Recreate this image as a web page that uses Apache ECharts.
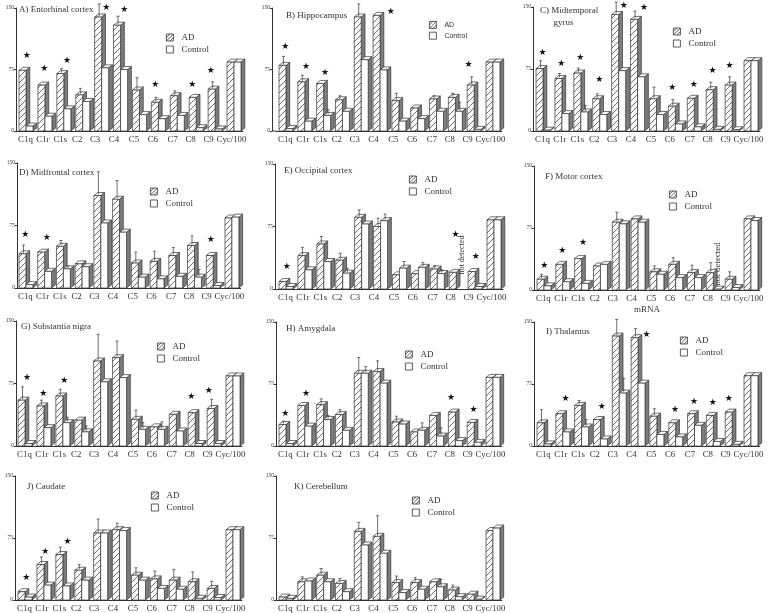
<!DOCTYPE html>
<html lang="en">
<head>
<meta charset="utf-8">
<script src="https://cdn.jsdelivr.net/npm/echarts@6/dist/echarts.min.js"></script>
<style>
    html, body { margin: 0; padding: 0; background: #fff; }
    #main { width: 768px; height: 613px; }
</style>
</head>
<body>
<div id="main"></div>
<script type="text/javascript">
var genes = ['C1q','C1r','C1s','C2','C3','C4','C5','C6','C7','C8','C9','Cyc/100'];
var n = null;

var adA = [74,56,70,44,139,129,50,35,43,41,51,84];
var controlA = [6,18,27,36,77,75,20,15,19,4,2.5,84];
var adErrA = [n,n,76,52,155,140,65,41,49,n,60,n];
var controlErrA = [n,n,n,n,n,n,n,n,n,n,n,n];
var starsA = [[0.07,92],[1,76],[2.2,86],[4.27,151],[5.23,148],[6.86,56],[8.82,56],[9.8,73]];

var adB = [80,60,58,38,139,141,37,28,39,41,56,84];
var controlB = [3,12,19,24,87,74.5,12,15,24,24,2,84];
var adErrB = [91,68,n,43,155,n,46,n,43,46,66,n];
var controlErrB = [n,n,26,n,n,n,n,n,n,35,n,n];
var starsB = [[0,103],[1.1,78],[2.1,71],[5.6,146],[9.73,81]];

var adC = [75.5,63.5,70,39,141,135,39,30,39.5,50,55.5,85];
var controlC = [1,21,23,20,73,65.5,20,8.5,5,2,1.5,85];
var adErrC = [85,69.5,76,45,156,145,53,38,n,59,65.5,n];
var controlErrC = [n,n,31,n,n,n,n,n,n,n,n,n];
var starsC = [[0,95],[1,82],[2,89],[3,62],[4.3,152],[5.37,149],[6.86,53],[8,56],[9,73],[9.9,79]];

var adD = [41,43,50,29,111,106.5,30,32,39,51,39,84];
var controlD = [4,20,23,25.5,78,67,13,11,14,13,3,85];
var adErrD = [51.5,n,57,n,139.5,129,43,44,48.5,62.5,n,n];
var controlErrD = [n,n,26,n,n,n,n,n,n,22,n,n];
var starsD = [[0,64],[1.14,61],[9.9,58.5]];

var adE = [9,40,54,34.5,86,75,17,18.5,24,20,21,83];
var controlE = [3,23,33,19,78,82,25,26,18.5,n,3,83];
var adErrE = [n,50,63,43,95,85,n,n,28,n,n,n];
var controlErrE = [n,n,n,25,n,90,33,32,23,n,n,n];
var starsE = [[0.07,27],[9,65],[10.07,39]];

var adF = [13,31,38,29,82,86,22,31,21,21,13,86];
var controlF = [5,10,8,31,80,82,19,15,15,1,3,84];
var adErrF = [19,n,n,n,94,n,29,39,30,33,22,n];
var controlErrF = [n,n,n,n,n,n,n,n,n,n,n,n];
var starsF = [[0.04,29],[1,47],[2.1,57]];

var adG = [55,48,60,31,102,106,32,23,38,40,45,84];
var controlG = [3,22,28,17,77,82,20,20,18,3,3,84];
var adErrG = [71,55,68,n,134,126,43,n,n,n,56,n];
var controlErrG = [n,n,34.5,24,n,n,28,29,n,n,n,n];
var starsG = [[0.14,82],[1,63],[2.1,79],[8.82,59],[9.75,66.5]];

var adH = [26,49,50,38,88,90,29,17,37,41,28.5,83];
var controlH = [3,24,32,19,88,76,26.5,19,12,6.5,4.5,83];
var adErrH = [30,n,57,44,107,103,36,n,n,n,n,n];
var controlErrH = [n,n,37,n,96,n,n,28,22,n,n,n];
var starsH = [[0,39],[1.1,63],[8.8,58],[10,44.5]];

var adI = [28,39,49,32,133,131,36,28,39,37,41,85];
var controlI = [2.5,17,23,8.5,64,76,14,11,25,5.5,2,85];
var adErrI = [44,n,55,n,153,142,45,n,n,n,n,n];
var controlErrI = [n,n,32,n,82,n,n,n,n,n,n,n];
var starsI = [[1.17,57],[3.1,48],[5.48,135],[7,44],[8,54],[9,52],[9.85,57]];

var adJ = [10,43,55,36,81,85,30,25.5,24,22,14,85];
var controlJ = [3.5,18,17,24,81,84,24,14,13,2,3,85];
var adErrJ = [n,52,64,43,98,93,39,35,37,34,22.5,n];
var controlErrJ = [n,n,n,n,n,n,n,n,n,n,n,n];
var starsJ = [[0.1,27],[1.1,59],[2.28,71]];

var adK = [3.5,22,30,20,83,77,21,21,22,12,7,84];
var controlK = [2,23,22,10,66.5,56.5,9,13,16,4,1,87];
var adErrK = [n,28,38,26,94,102,29,27,n,18,n,n];
var controlErrK = [n,n,n,n,n,n,n,n,25,n,n,n];
var starsK = [];

// axis = y axis x, first/cyc = left edge of first and last AD bar, all in page px
var panels = [
    {title:'A) Entorhinal cortex', tx:19, ty:4, axis:16, top:8, zero:131, first:19, cyc:227, lx:166, ly:33, ad:adA, control:controlA, adErr:adErrA, controlErr:controlErrA, stars:starsA},
    {title:'B) Hippocampus', tx:286, ty:10, axis:272, top:8, zero:131, first:279, cyc:486, lx:429, ly:21, ad:adB, control:controlB, adErr:adErrB, controlErr:controlErrB, stars:starsB, lf:'Liberation Sans', lfs:7},
    {title:'C) Midtemporal\n      gyrus', tx:540, ty:5, axis:533, top:7, zero:131, first:536, cyc:744, lx:673, ly:27, ad:adC, control:controlC, adErr:adErrC, controlErr:controlErrC, stars:starsC},
    {title:'D) Midfrontal cortex', tx:19, ty:167, axis:17, top:163, zero:288, first:19, cyc:225, lx:150, ly:187, ad:adD, control:controlD, adErr:adErrD, controlErr:controlErrD, stars:starsD},
    {title:'E) Occipital cortex', tx:284, ty:165, axis:275, top:164, zero:289, first:279, cyc:487, lx:409, ly:175, ad:adE, control:controlE, adErr:adErrE, controlErr:controlErrE, stars:starsE},
    {title:'F) Motor cortex', tx:545, ty:171, axis:534, top:166, zero:290, first:537, cyc:744, lx:669, ly:190, ad:adF, control:controlF, adErr:adErrF, controlErr:controlErrF, stars:starsF, xName:'mRNA'},
    {title:'G) Substantia nigra', tx:21, ty:321, axis:16, top:321, zero:446, first:18, cyc:226, lx:157, ly:342, ad:adG, control:controlG, adErr:adErrG, controlErr:controlErrG, stars:starsG},
    {title:'H) Amygdala', tx:286, ty:323, axis:276, top:322, zero:446, first:279, cyc:486, lx:405, ly:350, ad:adH, control:controlH, adErr:adErrH, controlErr:controlErrH, stars:starsH},
    {title:'I) Thalamus', tx:546, ty:326, axis:534, top:322, zero:446, first:537, cyc:744, lx:680, ly:336, ad:adI, control:controlI, adErr:adErrI, controlErr:controlErrI, stars:starsI},
    {title:'J) Caudate', tx:27, ty:481, axis:15, top:476, zero:600, first:18, cyc:226, lx:151, ly:491, ad:adJ, control:controlJ, adErr:adErrJ, controlErr:controlErrJ, stars:starsJ},
    {title:'K) Cerebellum', tx:294, ty:481, axis:276, top:476, zero:600, first:279, cyc:486, lx:412, ly:496, ad:adK, control:controlK, adErr:adErrK, controlErr:controlErrK, stars:starsK}
];

var notDetected = [
    {x:462, y:255, size:8},
    {x:718, y:264, size:9}
];

var serif = '"Liberation Serif", serif';
var inkColor = '#333';
var sideColor = '#7d7d7d';
var hatchIcon = 'path://M0 0H12V12H0Z M0 6L6 0 M0 12L12 0 M6 12L12 6';
var boxIcon = 'path://M0 0H12V12H0Z';

function makeHatch() {
    var c = document.createElement('canvas');
    c.width = 6; c.height = 6;
    var ctx = c.getContext('2d');
    ctx.fillStyle = '#fff';
    ctx.fillRect(0, 0, 6, 6);
    ctx.strokeStyle = '#444';
    ctx.lineWidth = 0.8;
    ctx.beginPath();
    ctx.moveTo(-1, 7); ctx.lineTo(7, -1);
    ctx.moveTo(-1, 1); ctx.lineTo(1, -1);
    ctx.moveTo(5, 7); ctx.lineTo(7, 5);
    ctx.stroke();
    return c;
}
var hatch = {image: makeHatch(), repeat: 'repeat'};

function barRenderer(isAd, axisGap) {
    return function(params, api) {
        var val = api.value(1);
        if (val == null || isNaN(val)) return null;
        var idx = api.value(0);
        var pt = api.coord([idx, val]);
        var base = api.coord([idx, 0]);
        var band = api.size([1, 0])[0];
        var w = band * 0.37;
        var x = pt[0] - band * 0.34 + (isAd ? 0 : w);
        var dx = band * 0.2, dy = 3;
        var line = {fill: 'none', stroke: inkColor, lineWidth: 0.7};
        var edge = {stroke: inkColor, lineWidth: 0.7};
        var kids = [
            {type:'polygon', shape:{points:[[x+w,pt[1]],[x+w+dx,pt[1]-dy],[x+w+dx,base[1]-dy],[x+w,base[1]]]},
                style:Object.assign({fill:sideColor}, edge)},
            {type:'polygon', shape:{points:[[x,pt[1]],[x+dx,pt[1]-dy],[x+w+dx,pt[1]-dy],[x+w,pt[1]]]},
                style:Object.assign({fill:'#fff'}, edge)},
            {type:'rect', shape:{x:x, y:pt[1], width:w, height:base[1]-pt[1]},
                style:Object.assign({fill:isAd ? hatch : '#fff'}, edge)}
        ];
        var err = api.value(2);
        if (err != null && !isNaN(err)) {
            var ep = api.coord([idx, err]);
            var ex = x + w / 2 + 1;
            kids.push({type:'line', shape:{x1:ex, y1:pt[1]-1, x2:ex, y2:ep[1]}, style:line});
            kids.push({type:'line', shape:{x1:ex-1.5, y1:ep[1], x2:ex+1.5, y2:ep[1]}, style:line});
        }
        if (isAd && idx === 0 && axisGap > 0) {
            kids.push({type:'line', shape:{x1:params.coordSys.x-axisGap, y1:base[1], x2:params.coordSys.x, y2:base[1]},
                style:{stroke:inkColor, lineWidth:1}});
        }
        return {type:'group', children:kids};
    };
}

function renderStar(params, api) {
    var pos = api.value(2);
    var whole = Math.round(pos);
    var pt = api.coord([whole, api.value(1)]);
    var band = api.size([1, 0])[0];
    return {type:'text', style:{text:'★', x:pt[0] + (pos - whole) * band, y:pt[1],
        align:'center', verticalAlign:'middle', font:'9px "DejaVu Sans"', fill:'#111'}};
}

// labels sit a little left of their bands in the original, right padding pulls them over
var labelPad = [0,3,6,10,12,12,10,10,8,10,12,4];
var geneItems = genes.map(function(g, k) {
    return {value:g, textStyle:{padding:[0,labelPad[k],0,0]}};
});

var grids = [], xAxes = [], yAxes = [], titles = [], legends = [], series = [];
panels.forEach(function(p, i) {
    var period = (p.cyc - p.first) / 11;
    var left = p.first - 3;
    grids.push({left:left, top:p.top, width:period * 12, height:p.zero - p.top});
    xAxes.push({
        type:'category', gridIndex:i, data:geneItems,
        name:p.xName || '', nameLocation:'middle', nameGap:15,
        nameTextStyle:{fontFamily:serif, fontSize:9, color:inkColor},
        axisLine:{lineStyle:{color:inkColor, width:1}},
        axisTick:{show:false},
        axisLabel:{interval:0, fontFamily:serif, fontSize:8.8, color:inkColor, margin:4, hideOverlap:false}
    });
    yAxes.push({
        type:'value', gridIndex:i, min:0, max:150, interval:75, offset:left - p.axis,
        splitLine:{show:false},
        axisLine:{show:true, lineStyle:{color:inkColor, width:1}},
        axisTick:{show:true, length:2, lineStyle:{color:inkColor}},
        axisLabel:{fontFamily:serif, fontSize:5.5, color:inkColor, margin:2}
    });
    titles.push({text:p.title, left:p.tx, top:p.ty, padding:0,
        textStyle:{fontFamily:serif, fontSize:9, fontWeight:'normal', color:inkColor, lineHeight:12}});
    legends.push({
        left:p.lx, top:p.ly, orient:'vertical', selectedMode:false, padding:0,
        itemWidth:7, itemHeight:7, itemGap:3,
        textStyle:{fontFamily:p.lf || serif, fontSize:p.lfs || 9, color:inkColor, padding:[0,0,0,3]},
        data:[{name:'AD', icon:hatchIcon}, {name:'Control', icon:boxIcon}],
        itemStyle:{color:'#fff', borderColor:inkColor, borderWidth:0.8}
    });
    series.push({
        type:'custom', name:'AD', xAxisIndex:i, yAxisIndex:i, silent:true,
        renderItem:barRenderer(true, left - p.axis),
        encode:{x:0, y:1},
        data:p.ad.map(function(v, k) { return [k, v, p.adErr[k]]; })
    });
    series.push({
        type:'custom', name:'Control', xAxisIndex:i, yAxisIndex:i, silent:true,
        renderItem:barRenderer(false, 0),
        encode:{x:0, y:1},
        data:p.control.map(function(v, k) { return [k, v, p.controlErr[k]]; })
    });
    series.push({
        type:'custom', name:'stars', xAxisIndex:i, yAxisIndex:i, silent:true,
        renderItem:renderStar,
        encode:{x:0, y:1},
        data:p.stars.map(function(s) { return [Math.round(s[0]), s[1], s[0]]; })
    });
});

var chart = echarts.init(document.getElementById('main'));
chart.setOption({
    animation:false,
    backgroundColor:'#fff',
    title:titles,
    legend:legends,
    grid:grids,
    xAxis:xAxes,
    yAxis:yAxes,
    series:series,
    graphic:notDetected.map(function(t) {
        return {type:'text', x:t.x, y:t.y, rotation:Math.PI / 2, silent:true,
            style:{text:'not detected', align:'center', verticalAlign:'middle',
                font:t.size + 'px ' + serif, fill:inkColor}};
    })
});
</script>
</body>
</html>
